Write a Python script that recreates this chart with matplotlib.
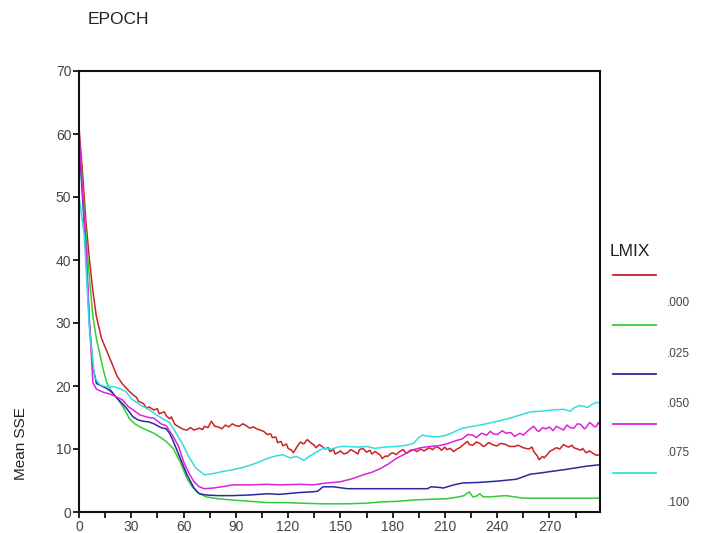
import matplotlib
matplotlib.use("Agg")
import matplotlib.pyplot as plt
from matplotlib.lines import Line2D

plt.rcParams['font.family'] = ['Liberation Sans', 'DejaVu Sans']

# LMIX series: (epoch, mean SSE)
lmix_000 = [(0,61),(2,54),(4,46),(6,40),(8,35),(10,31),(13,27.5),(16,25.5),(19,23.5),(22,21.5),
            (25,20.3),(28,19.4),(31,18.6),(33,18.2),(34,17.6),(37,17.2),(39,16.4),(40,16.7),(43,16.2),
            (45,16.4),(46,15.6),(49,15.9),(50,15.3),(52,14.8),(53,15.1),(55,13.9),(58,13.4),(60,13.1),
            (62,13.0),(64,13.4),(66,13.0),(69,13.3),(71,13.1),(72,13.6),(74,13.4),(76,14.4),(78,13.6),
            (80,13.5),(82,13.2),(84,13.8),(86,13.5),(88,14.0),(90,13.7),(92,13.6),(94,14.0),(96,13.7),
            (98,13.3),(100,13.5),(102,13.2),(104,13.0),(106,12.8),(108,12.3),(110,12.4),(111,11.8),
            (113,11.9),(114,11.0),(116,11.2),(117,10.5),(119,10.8),(120,10.1),(122,9.8),(123,9.4),
            (125,10.3),(127,11.1),(129,10.8),(131,11.5),(133,11.0),(135,10.6),(136,10.2),(138,10.7),
            (140,10.3),(141,10.0),(143,10.2),(144,9.6),(146,9.9),(147,9.2),(149,9.5),(150,9.7),
            (152,9.2),(154,9.4),(156,9.9),(158,9.6),(160,9.2),(161,9.9),(163,10.1),(165,9.5),(167,9.8),
            (168,9.2),(170,9.6),(171,9.4),(173,9.0),(174,8.5),(176,8.9),(177,8.8),(179,9.3),(180,9.4),
            (182,9.1),(184,9.6),(186,9.9),(188,9.3),(190,9.8),(192,9.9),(194,9.6),(196,10.0),(198,9.7),
            (201,10.2),(203,9.9),(205,10.4),(207,10.1),(208,9.8),(210,10.3),(211,9.9),(213,10.1),
            (215,9.6),(217,10.0),(219,10.3),(221,10.8),(223,11.2),(224,10.7),(226,10.6),(228,11.1),
            (230,10.9),(232,10.4),(233,10.5),(235,11.0),(236,10.9),(238,10.6),(240,10.5),(242,10.9),
            (245,10.7),(247,10.4),(250,10.4),(252,10.6),(255,10.2),(258,10.0),(260,10.3),(261,9.6),
            (263,8.9),(264,8.3),(266,8.8),(267,8.6),(269,9.2),(270,9.6),(272,9.9),(274,10.2),(276,10.0),
            (278,10.7),(280,10.4),(281,10.3),(283,10.6),(284,10.2),(286,10.0),(288,9.8),(289,10.1),
            (291,9.4),(293,9.7),(295,9.3),(297,9.0),(299,9.1)]
lmix_025 = [(0,60),(2,52),(4,44),(6,37),(8,31),(10,27.5),(12,25),(14,22.5),(16,20.5),(19,19),(22,18),
            (25,16.8),(29,14.8),(32,14),(35,13.5),(39,13),(43,12.5),(47,11.8),(50,11.2),(54,10.1),(58,8),
            (62,5.3),(65,4),(68,3.1),(73,2.4),(80,2.1),(88,1.9),(98,1.7),(108,1.5),(118,1.5),(127,1.4),
            (140,1.3),(154,1.3),(165,1.4),(173,1.6),(183,1.7),(192,1.9),(200,2.0),(211,2.1),(218,2.4),
            (221,2.6),(224,3.2),(226,2.4),(228,2.5),(230,2.9),(232,2.4),(236,2.4),(240,2.5),(245,2.6),
            (250,2.4),(255,2.2),(264,2.2),(280,2.2),(299,2.2)]
lmix_050 = [(0,59),(2,50),(4,41),(6,30),(8,23),(10,20.4),(13,20),(16,19.6),(19,19),(22,18),(25,17.2),
            (28,16.2),(31,15.1),(34,14.6),(37,14.4),(40,14.3),(43,14),(47,13.4),(50,13.2),(52,12.5),
            (54,11.3),(58,8.6),(62,5.9),(66,3.8),(69,2.9),(73,2.7),(80,2.6),(88,2.6),(98,2.7),(108,2.9),
            (115,2.8),(127,3.1),(134,3.2),(137,3.3),(140,4.0),(146,4.0),(154,3.7),(170,3.7),(185,3.7),
            (200,3.7),(202,4.0),(207,3.9),(209,3.8),(215,4.3),(220,4.6),(230,4.7),(240,4.9),(251,5.2),
            (255,5.6),(259,6.0),(265,6.2),(270,6.4),(278,6.7),(285,7.0),(292,7.3),(299,7.5)]
lmix_075 = [(0,60),(2,51),(4,42),(6,30),(8,20.5),(10,19.5),(14,19),(18,18.7),(22,18.2),(25,17.8),
            (28,16.8),(32,16),(35,15.4),(40,15),(43,14.9),(47,14),(50,13.7),(54,12),(57,10.5),(60,8),
            (63,6.2),(66,4.8),(69,4.0),(72,3.7),(77,3.8),(82,4.0),(88,4.3),(98,4.3),(108,4.4),(115,4.3),
            (127,4.4),(134,4.3),(142,4.6),(150,4.8),(157,5.3),(163,5.9),(168,6.3),(173,6.9),(178,7.7),
            (182,8.5),(187,9.2),(192,9.9),(196,10.2),(201,10.4),(206,10.5),(211,10.8),(216,11.3),
            (220,11.6),(223,12.3),(226,12.2),(228,11.8),(231,12.5),(234,12.2),(236,12.8),(238,12.4),
            (240,12.3),(243,12.9),(245,12.5),(248,12.6),(250,12.0),(253,12.5),(255,12.2),(258,13.0),
            (261,13.6),(263,12.9),(264,12.8),(266,13.4),(268,13.2),(270,13.5),(272,12.9),(274,13.6),
            (276,13.3),(278,13.0),(280,13.8),(282,13.4),(284,13.3),(286,14.0),(288,13.9),(290,13.2),
            (291,13.4),(293,14.2),(294,14.0),(296,13.5),(297,13.6),(298,14.2),(299,13.8)]
lmix_100 = [(0,50),(3,44),(6,29),(9,21.3),(12,20.2),(15,19.9),(20,19.9),(24,19.5),(27,19.1),(30,18),
            (35,17),(40,16.3),(44,15.5),(48,14.8),(52,14.2),(56,12.4),(60,10.5),(63,8.8),(67,7),(72,5.9),
            (77,6.1),(82,6.4),(88,6.7),(93,7.0),(98,7.4),(103,7.9),(108,8.5),(113,8.9),(117,9.1),(121,8.6),
            (125,8.8),(129,8.2),(132,8.8),(135,9.3),(140,10.1),(145,10.0),(150,10.4),(154,10.4),(160,10.3),
            (165,10.4),(170,10.1),(175,10.3),(182,10.4),(188,10.6),(192,10.9),(195,11.8),(197,12.2),
            (201,12.0),(206,11.9),(211,12.2),(216,12.8),(220,13.3),(226,13.6),(232,13.9),(240,14.4),
            (246,14.8),(252,15.3),(259,15.9),(265,16.0),(272,16.2),(278,16.3),(282,16.0),(284,16.5),
            (287,16.9),(289,16.8),(292,16.6),(294,17.0),(297,17.4),(299,17.3)]

labels = ['.000', '.025', '.050', '.075', '.100']
series = [lmix_000, lmix_025, lmix_050, lmix_075, lmix_100]
colors = ['#cc2222', '#33cc33', '#2a2a9a', '#dd22dd', '#33dddd']
xticks = [0, 30, 60, 90, 120, 150, 180, 210, 240, 270]
yticks = [0, 10, 20, 30, 40, 50, 60, 70]

fig = plt.figure(figsize=(7.01, 5.33), dpi=100)
ax = fig.add_axes([79/701, 1-512/533, (600-79)/701, (512-71)/533])

for data, c in zip(series, colors):
    xs = [p[0] for p in data]
    ys = [p[1] for p in data]
    ax.plot(xs, ys, color=c, lw=1.1)

ax.set_xlim(0, 299)
ax.set_ylim(0, 70)
ax.set_xticks(xticks)
ax.set_xticks(range(15, 299, 30), minor=True)
ax.set_yticks(yticks)
for s in ax.spines.values():
    s.set_linewidth(1.5)
    s.set_color('#111111')
ax.tick_params(axis='both', which='both', direction='out', length=4, width=1.2,
               labelsize=10, labelcolor='#444444', pad=1.5)

fig.text(88/701, 1-20/533, 'EPOCH', fontsize=12.5, color='#222222', ha='left', va='center')
fig.text(21/701, 1-444/533, 'Mean SSE', fontsize=11, color='#222222', rotation=90,
         ha='center', va='center')

# legend
fig.text(610/701, 1-252/533, 'LMIX', fontsize=12.5, color='#222222', ha='left', va='center')
line_y = [275, 325, 374, 424, 473]
lab_y = [303, 354, 404, 453, 503]
for c, ly, lab, ty in zip(colors, line_y, labels, lab_y):
    fig.add_artist(Line2D([613/701, 656/701], [1-ly/533, 1-ly/533], color=c, lw=1.3,
                          transform=fig.transFigure))
    fig.text(667/701, 1-ty/533, lab, fontsize=8.5, color='#444444', ha='left', va='center')

fig.savefig('out.png', dpi=100)
